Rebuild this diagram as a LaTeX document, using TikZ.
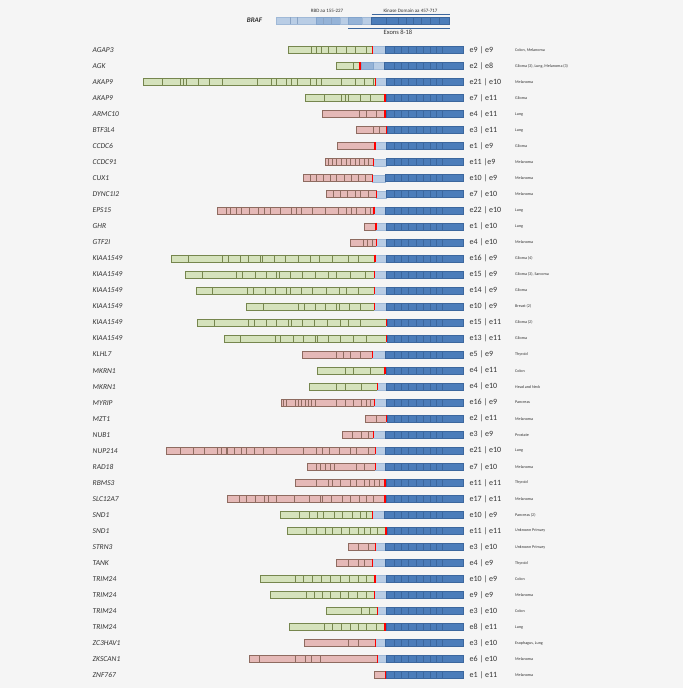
\documentclass[tikz,border=0pt]{standalone}
\usepackage{fontspec}
\setmainfont{Carlito}
\definecolor{bgc}{HTML}{F5F5F5}
\definecolor{gfill}{HTML}{D5E2BC}
\definecolor{gline}{HTML}{76864E}
\definecolor{pfill}{HTML}{E5B9B7}
\definecolor{pline}{HTML}{8E6B60}
\definecolor{lblue}{HTML}{B9CDE5}
\definecolor{mblue}{HTML}{95B3D7}
\definecolor{dblue}{HTML}{4C7DBA}
\definecolor{bline}{HTML}{3C679E}
\definecolor{txt}{HTML}{333333}
\tikzset{
  gbar/.style={fill=gfill,draw=gline,line width=0.6pt},
  gdiv/.style={draw=gline,line width=0.5pt},
  pbar/.style={fill=pfill,draw=pline,line width=0.6pt},
  pdiv/.style={draw=pline,line width=0.5pt},
  lbar/.style={fill=lblue,draw=lblue!80!bline,line width=0.4pt},
  mbar/.style={fill=mblue,draw=mblue!80!bline,line width=0.4pt},
  dbar/.style={fill=dblue,draw=bline,line width=0.6pt},
  ddiv/.style={draw=bline,line width=0.5pt},
  redmark/.style={draw=red,line width=1.6pt},
  genelbl/.style={anchor=west,inner sep=0pt,text=txt,font=\fontsize{7.5}{8.5}\selectfont\itshape},
  fuslbl/.style={anchor=west,inner sep=0pt,text=txt,font=\fontsize{8}{9}\selectfont},
  canlbl/.style={anchor=west,inner sep=0pt,text=txt,font=\fontsize{4.1}{5}\selectfont},
  hdrlbl/.style={inner sep=0pt,text=txt,font=\fontsize{5}{6}\selectfont},
}
% #1 idx, #2 g/p, #3 start, #4 dividers, #5 red, #6 dark start, #7 gene, #8 fusion, #9 cancer
\newcommand\frow[9]{%
  \pgfmathsetmacro\myY{50+16.03*(#1-1)}%
  \pgfmathsetmacro\myS{140+#3/3}%
  \pgfmathsetmacro\myR{140+#5/3}%
  \pgfmathsetmacro\myD{140+#6/3}%
  \draw[#2bar] (\myS,\myY-3.5) rectangle (\myR,\myY+3.5);
  \foreach \dv in {#4} {\draw[#2div] ({140+\dv/3},\myY-3.5) -- ({140+\dv/3},\myY+3.5);}
  \draw[lbar] (\myR,\myY-3.5) rectangle (\myD,\myY+3.5);
  \draw[dbar] (\myD,\myY-3.5) rectangle (463.3,\myY+3.5);
  \foreach \dv in {762,784,806,828,850,870,888,908} {\draw[ddiv] ({140+\dv/3},\myY-3.5) -- ({140+\dv/3},\myY+3.5);}
  \draw[redmark] (\myR,\myY-3.7) -- (\myR,\myY+3.7);
  \node[genelbl] (g#1) at (92.5,\myY) {#7};
  \node[fuslbl] (f#1) at (469.5,\myY) {#8};
  \node[canlbl] (c#1) at (515,\myY) {#9};
}
\begin{document}
\begin{tikzpicture}[x=1pt,y=-1pt]
\fill[bgc] (0,0) rectangle (683,688);
\useasboundingbox (0,0) rectangle (683,688);
% header
\node[inner sep=0pt,text=txt,font=\fontsize{7}{8}\selectfont\bfseries\itshape] (braf) at (254.5,20.5) {BRAF};
\draw[lbar] (276,17.3) rectangle (316,24);
\draw[mbar] (316,17.3) rectangle (340,24);
\draw[lbar] (340,17.3) rectangle (348.3,24);
\draw[mbar] (348.3,17.3) rectangle (361.7,24);
\draw[lbar] (361.7,17.3) rectangle (371.7,24);
\draw[dbar] (371.7,17.3) rectangle (449.3,24);
\foreach \dv in {290,297.3,323.3,330.7} {\draw[draw=bline!60,line width=0.4pt] (\dv,17.3) -- (\dv,24);}
\foreach \dv in {386.7,398.3,406.7,413.3,421.7,430.7,439.3} {\draw[ddiv] (\dv,17.3) -- (\dv,24);}
\node[hdrlbl] (rbd) at (327,10.8) {RBD aa 155-227};
\node[hdrlbl] (kin) at (410.5,10.8) {Kinase Domain aa 457-717};
\draw[bline,line width=0.5pt] (371.7,14.6) -- (450,14.6);
\draw[bline,line width=0.5pt] (348,28.3) -- (450,28.3);
\node[inner sep=0pt,text=txt,font=\fontsize{6.5}{7.5}\selectfont] (exo) at (398,32.5) {Exons 8-18};
% rows
\frow{1}{g}{445}{515,528,545,565,590,620,645,680}{698}{735}{AGAP3}{e9 | e9}{Colon, Melanoma}
\frow{2}{g}{590}{640}{660}{733}{AGK}{e2 | e8}{Glioma (3), Lung, Melanoma (3)}
\draw[mbar] ({140+663/3},{50+16.03-3.5}) rectangle ({140+700/3},{50+16.03+3.5});
\draw[redmark] ({140+660/3},{50+16.03-3.7}) -- ({140+660/3},{50+16.03+3.7});
\frow{3}{g}{10}{68,120,130,140,175,208,248,352,395,408,440,455,472,512,530,545,605,645,672,700}{707}{740}{AKAP9}{e21 | e10}{Melanoma}
\frow{4}{g}{495}{552,605,615,625,660,692}{735}{738}{AKAP9}{e7 | e11}{Glioma}
\frow{5}{p}{547}{658,680,708}{735}{738}{ARMC10}{e4 | e11}{Lung}
\frow{6}{p}{650}{700,718}{740}{743}{BTF3L4}{e3 | e11}{Lung}
\frow{7}{p}{592}{592}{705}{740}{CCDC6}{e1 | e9}{Glioma}
\frow{8}{p}{557}{565,577,590,605,618,632,645,658,672,685}{700}{740}{CCDC91}{e11 |e9}{Melanoma}
\frow{9}{p}{490}{510,530,550,570,590,612,633,655,675}{698}{735}{CUX1}{e10 | e9}{Melanoma}
\frow{10}{p}{560}{580,600,622,645,660,685}{710}{740}{DYNC1I2}{e7 | e10}{Melanoma}
\frow{11}{p}{232}{258,270,290,305,327,355,372,390,420,455,470,485,518,555,595,620,635,650,675,690}{702}{735}{EPS15}{e22 | e10}{Lung}
\frow{12}{p}{672}{672}{708}{740}{GHR}{e1 | e10}{Lung}
\frow{13}{p}{632}{670,683,697}{710}{740}{GTF2I}{e4 | e10}{Melanoma}
\frow{14}{g}{93}{145,248,265,300,325,362,368,402,435,475,512,538,578,625,655}{705}{740}{KIAA1549}{e16 | e9}{Glioma (4)}
\frow{15}{g}{137}{188,290,308,345,380,408,418,450,487,527,565,590,630,675}{703}{740}{KIAA1549}{e15 | e9}{Glioma (3), Sarcoma}
\frow{16}{g}{168}{218,322,340,375,405,440,450,485,518,558,598,620,655}{703}{740}{KIAA1549}{e14 | e9}{Glioma}
\frow{17}{g}{320}{370,475,492,527,555,590,598,628,660}{703}{740}{KIAA1549}{e10 | e9}{Breast (2)}
\frow{18}{g}{172}{222,325,342,378,408,445,453,488,522,562,600,625,660}{740}{743}{KIAA1549}{e15 | e11}{Glioma (2)}
\frow{19}{g}{252}{302,405,422,460,490,525,533,565,600,640,678}{740}{743}{KIAA1549}{e13 | e11}{Glioma}
\frow{20}{p}{488}{590,610,632,660}{698}{735}{KLHL7}{e5 | e9}{Thyroid}
\frow{21}{g}{532}{615,640,690}{735}{738}{MKRN1}{e4 | e11}{Colon}
\frow{22}{g}{507}{590,615,665}{713}{740}{MKRN1}{e4 | e10}{Head and Neck}
\frow{23}{p}{423}{430,440,465,475,485,495,505,515,525,590,615,640,665,680,690}{703}{740}{MYRIP}{e16 | e9}{Pancreas}
\frow{24}{p}{677}{710}{740}{743}{MZT1}{e2 | e11}{Melanoma}
\frow{25}{p}{608}{638,665,685}{700}{735}{NUB1}{e3 | e9}{Prostate}
\frow{26}{p}{80}{120,160,193,233,243,258,263,283,303,318,343,370,408,490,528,548,568,598,632,650,685}{707}{735}{NUP214}{e21 | e10}{Lung}
\frow{27}{p}{502}{530,540,555,570,583,648,672}{707}{735}{RAD18}{e7 | e10}{Melanoma}
\frow{28}{p}{465}{528,565,578,600,632,648,672,688,702,718}{735}{738}{RBMS3}{e11 | e11}{Thyroid}
\frow{29}{p}{262}{298,320,345,372,385,410,462,508,540,548,575,608,632,658,678,700}{735}{738}{SLC12A7}{e17 | e11}{Melanoma}
\frow{30}{g}{421}{478,508,532,550,583,608,636,660,680}{698}{732}{SND1}{e10 | e9}{Pancreas (2)}
\frow{31}{g}{442}{500,530,555,578,605,628,655,672,690,712}{738}{741}{SND1}{e11 | e11}{Unknown Primary}
\frow{32}{p}{624}{655,685}{707}{735}{STRN3}{e3 | e10}{Unknown Primary}
\frow{33}{p}{590}{625,655,672}{698}{735}{TANK}{e4 | e9}{Thyroid}
\frow{34}{g}{360}{465,490,518,545,572,600,628,655,680}{705}{740}{TRIM24}{e10 | e9}{Colon}
\frow{35}{g}{392}{498,522,548,572,600,625,652,680}{703}{740}{TRIM24}{e9 | e9}{Melanoma}
\frow{36}{g}{560}{665,688}{712}{740}{TRIM24}{e3 | e10}{Colon}
\frow{37}{g}{448}{552,578,605,630,655,680,708}{735}{738}{TRIM24}{e8 | e11}{Lung}
\frow{38}{p}{493}{625,655}{707}{735}{ZC3HAV1}{e3 | e10}{Esophagus, Lung}
\frow{39}{p}{328}{358,465,495,515,540}{712}{740}{ZKSCAN1}{e6 | e10}{Melanoma}
\frow{40}{p}{703}{703}{737}{740}{ZNF767}{e1 | e11}{Melanoma}
\end{tikzpicture}
\end{document}
